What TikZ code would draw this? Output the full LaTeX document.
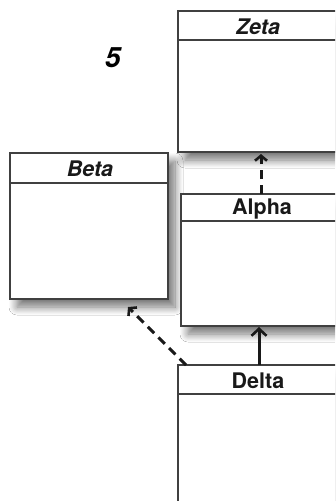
\documentclass[tikz,border=0pt]{standalone}
\usepackage{fontspec}
\setmainfont{TeX Gyre Heros}
\usetikzlibrary{arrows.meta,shadows.blur}
\begin{document}
\begin{tikzpicture}[x=1pt,y=-1pt,
  umlbox/.style={draw=black!75,line width=1.2pt,fill=white,inner sep=0pt,
    blur shadow={shadow xshift=7pt,shadow yshift=-8pt,shadow blur radius=8pt,shadow blur steps=12,shadow opacity=55}},
  title/.style={font=\fontsize{21.5}{24}\selectfont\bfseries,text=black!90,inner sep=0pt},
  ititle/.style={title,font=\fontsize{21.5}{24}\selectfont\bfseries\itshape},
  sep/.style={draw=black!75,line width=1.2pt},
  dep/.style={line width=3pt,draw=black!90,dash pattern=on 9pt off 6pt,-{Straight Barb[length=5pt,width=12pt,line width=2.6pt]}},
  gen/.style={line width=3pt,draw=black!90,-{Straight Barb[length=7pt,width=15pt,line width=2.6pt]}}]
\useasboundingbox (0,0) rectangle (335,501);
\clip (0,0) rectangle (335,501);
\fill[white] (0,0) rectangle (335,501);
% boxes
\path[umlbox] (178,11) rectangle (338,152);
\path[umlbox] (10,153) rectangle (168,299);
\path[umlbox] (181,194) rectangle (343,326);
\path[umlbox] (178,365) rectangle (338,530);
% named anchors
\coordinate (zb) at (261,154);
\coordinate (at) at (261,194);
\coordinate (ab) at (259,327);
\coordinate (dt) at (259,365);
\coordinate (dl) at (186,365);
\coordinate (bb) at (128,307);
% separators
\draw[sep] (178,40) -- (338,40);
\draw[sep] (10,183) -- (168,183);
\draw[sep] (181,221) -- (343,221);
\draw[sep] (178,394) -- (338,394);
% titles
\node[ititle] (zeta) at (258,27) {Zeta};
\node[ititle] (beta) at (90,169) {Beta};
\node[title] (alpha) at (262,209) {Alpha};
\node[title] (delta) at (258,381) {Delta};
\node[font=\fontsize{28}{30}\selectfont\bfseries\itshape,inner sep=0pt] (five) at (113,58) {5};
% connectors
\draw[dep] (at) -- (zb);
\draw[gen] (dt) -- (ab);
\draw[dep] (dl) -- (bb);
\end{tikzpicture}
\end{document}
